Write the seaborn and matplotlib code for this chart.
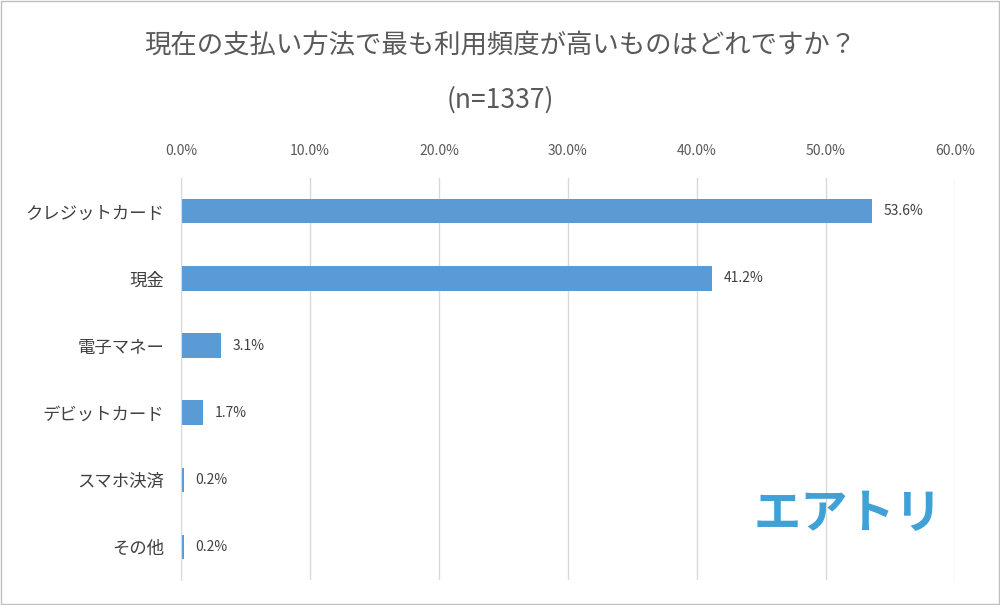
import matplotlib
matplotlib.use("Agg")
import matplotlib.pyplot as plt
import seaborn as sns
import pandas as pd
from matplotlib.ticker import PercentFormatter
from matplotlib.patches import Rectangle

categories = ["クレジットカード", "現金", "電子マネー", "デビットカード", "スマホ決済", "その他"]
values = [53.6, 41.2, 3.1, 1.7, 0.2, 0.2]
ticks = [0, 10, 20, 30, 40, 50, 60]

plt.rcParams["font.family"] = ["Noto Sans CJK JP", "DejaVu Sans"]
df = pd.DataFrame({"cat": categories, "val": values})

fig = plt.figure(figsize=(10, 6.05), dpi=100)
ax = fig.add_axes([0.181, 0.041, 0.774, 0.665])
sns.barplot(data=df, y="cat", x="val", color="#5B9BD5", width=0.36, ax=ax, orient="h", saturation=1)
ax.set_xlim(0, 60)
ax.set_xticks(ticks)
ax.xaxis.set_major_formatter(PercentFormatter(decimals=1))
ax.xaxis.tick_top()
ax.tick_params(axis="x", length=0, labelsize=10, colors="#595959", pad=14)
ax.tick_params(axis="y", length=0, labelsize=12.5, colors="#404040", pad=12)
ax.set_xlabel(""); ax.set_ylabel("")
ax.grid(axis="x", color="#D9D9D9", linewidth=1)
ax.set_axisbelow(True)
for s in ["top", "right", "bottom"]:
    ax.spines[s].set_visible(False)
ax.spines["left"].set_color("#D9D9D9")
for i, v in enumerate(values):
    ax.text(v + 0.9, i, f"{v:.1f}%", va="center", ha="left", fontsize=10, color="#404040")

fig.text(0.5, 0.925, "現在の支払い方法で最も利用頻度が高いものはどれですか？", ha="center", va="center", fontsize=19, color="#595959")
fig.text(0.5, 0.835, "(n=1337)", ha="center", va="center", fontsize=19, color="#595959")
fig.text(0.848, 0.15, "エアトリ", ha="center", va="center", fontsize=34, fontweight="bold", color="#3FA1D6")
fig.patches.append(Rectangle((0.001, 0.001), 0.998, 0.998, transform=fig.transFigure, fill=False, edgecolor="#BFBFBF", linewidth=1))
fig.savefig("out.png", dpi=100, facecolor="white")
